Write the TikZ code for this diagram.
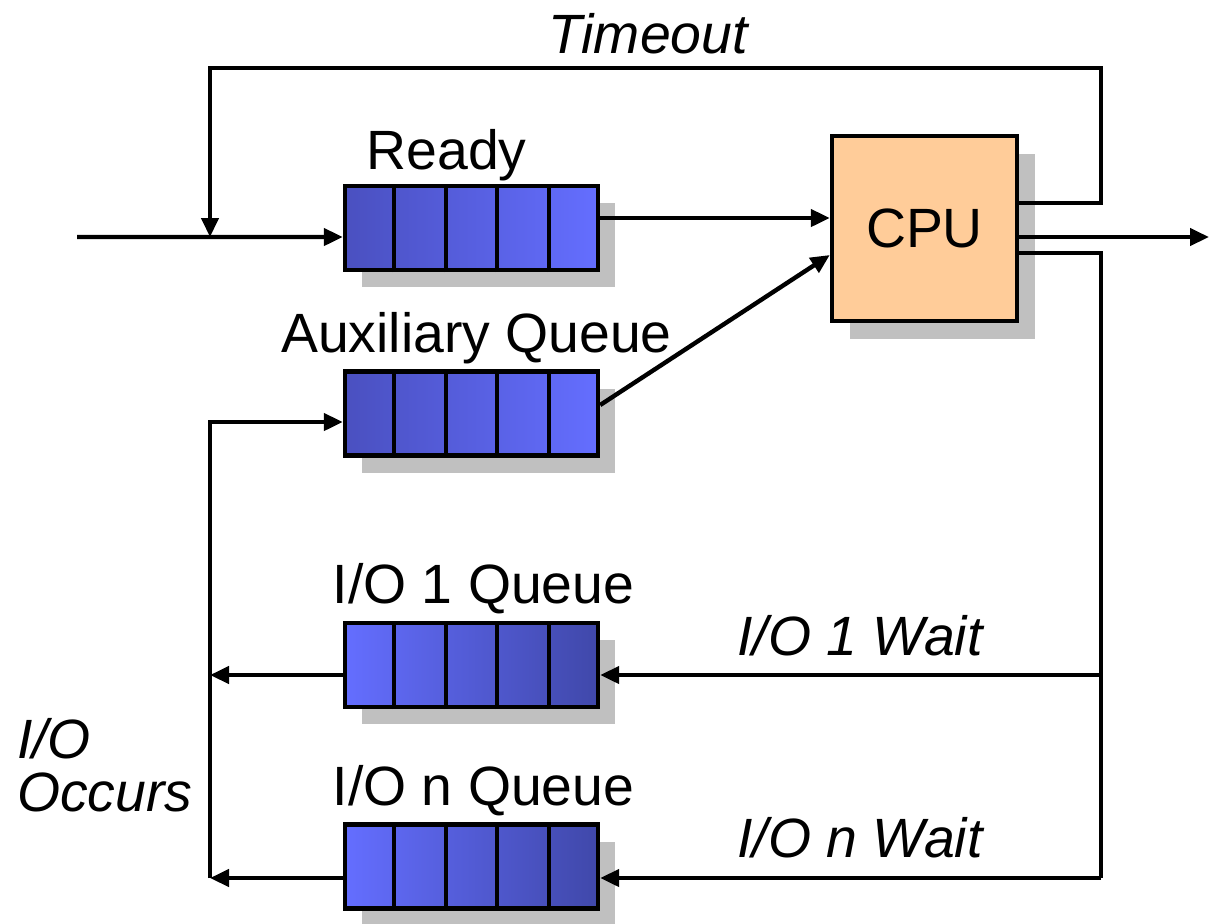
\documentclass[tikz,border=0pt]{standalone}
\usepackage{fontspec}
\setmainfont{Liberation Sans}
\usetikzlibrary{arrows.meta, positioning, calc, shadows}
\definecolor{qdark}{RGB}{74,80,192}
\definecolor{qlight}{RGB}{100,110,255}
\definecolor{qdeep}{RGB}{64,72,170}
\definecolor{cpufill}{RGB}{255,204,153}
\definecolor{shadowgray}{RGB}{192,192,192}

\begin{document}
\begin{tikzpicture}[font=\fontsize{31.5}{30}\selectfont, line width=2.5pt,
    >={Triangle[length=0.38cm,width=0.34cm]},
    queue/.style={draw, minimum width=5.06cm, minimum height=1.68cm, inner sep=0pt,
      general shadow={fill=shadowgray, shadow xshift=0.34cm, shadow yshift=-0.34cm}},
    inq/.style={queue, left color=qdark, right color=qlight},
    outq/.style={queue, left color=qlight, right color=qdeep},
    cpubox/.style={draw, fill=cpufill, minimum size=3.7cm, inner sep=0pt,
      general shadow={fill=shadowgray, shadow xshift=0.36cm, shadow yshift=-0.36cm}},
    lbl/.style={anchor=base},
    itlbl/.style={anchor=base, font=\fontsize{31.5}{30}\selectfont\itshape},
    ]
    \useasboundingbox (0,0) rectangle (24.18,-18.46);

    % Queues
    \node[inq] (ready) at (9.43,-4.56) {};
    \node[inq] (aux) at (9.43,-8.27) {};
    \node[outq] (io1) at (9.43,-13.30) {};
    \node[outq] (ion) at (9.43,-17.33) {};

    % CPU
    \node[cpubox] (cpu) at (18.49,-4.57) {CPU};

    % Cells
    \foreach \q in {ready, aux, io1, ion} {
      \foreach \i in {1,...,4}
        \draw ($(\q.south west)!\i/5!(\q.south east)$) -- ($(\q.north west)!\i/5!(\q.north east)$);
    }

    % Queue labels
    \node[lbl] at ([xshift=-0.5cm, yshift=0.28cm]ready.north) {Ready};
    \node[lbl] at ([xshift=0.1cm, yshift=0.34cm]aux.north) {Auxiliary Queue};
    \node[lbl] at ([xshift=0.24cm, yshift=0.34cm]io1.north) {I/O 1 Queue};
    \node[lbl] at ([xshift=0.24cm, yshift=0.34cm]ion.north) {I/O n Queue};

    % Points on the lines
    \coordinate (in) at (1.54,-4.74);
    \coordinate (join) at (4.2,-4.74);
    \coordinate (tl) at (4.2,-1.36);
    \coordinate (tr) at (22.02,-1.36);
    \coordinate (w1) at (22.02,-13.5);
    \coordinate (wn) at (22.02,-17.56);
    \coordinate (l1) at (4.2,-13.5);
    \coordinate (ln) at (4.2,-17.56);
    \coordinate (la) at (4.2,-8.44);
    \coordinate (out) at (24.18,-4.74);

    % Connectors
    \draw[->] (in) -- ([yshift=-0.18cm]ready.west);
    \draw[->] ([yshift=0.2cm]ready.east) -- ([yshift=0.21cm]cpu.west);
    \draw[->] ([yshift=0.17cm]aux.east) -- ([yshift=-0.53cm]cpu.west);
    \draw[->] ([yshift=0.51cm]cpu.east) -| (tr) -- (tl) -- (join);
    \draw[->] (cpu.east |- out) -- (out);
    \draw ([yshift=-0.49cm]cpu.east) -| (wn);
    \draw[->] (w1) -- (io1.east |- w1);
    \draw[->] (wn) -- (ion.east |- wn);
    \draw[->] (io1.west |- l1) -- (l1);
    \draw[->] (ion.west |- ln) -- (ln);
    \draw[->] (ln) -- (la) -- (aux.west |- la);

    % Line labels
    \node[itlbl] at (12.96,-1.06) {Timeout};
    \node[itlbl] at (17.2,-13.1) {I/O 1 Wait};
    \node[itlbl] at (17.2,-17.14) {I/O n Wait};
    \node[anchor=west, align=left, font=\fontsize{31.5}{30}\selectfont\itshape, inner sep=0pt] (occurs) at (0.3,-15.3) {I/O\\Occurs};
  \end{tikzpicture}
\end{document}
